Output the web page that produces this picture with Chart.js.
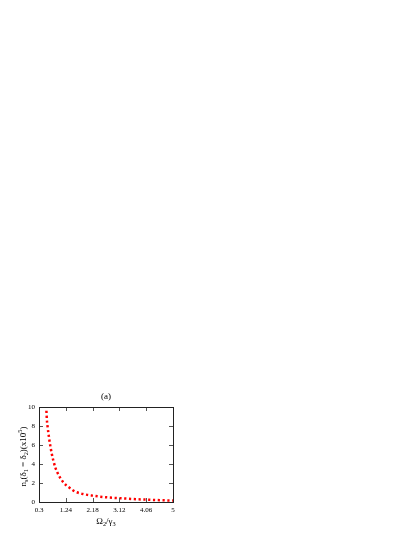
<!DOCTYPE html>
<html>
<head>
<meta charset="utf-8">
<script src="https://cdn.jsdelivr.net/npm/chart.js@4.4.1/dist/chart.umd.min.js"></script>
<style>
	body { margin: 0; background: #fff; }
	canvas { display: block; }
</style>
</head>
<body>
<canvas id="chart" width="415" height="537"></canvas>
<script>

// Omega_2 / gamma_3 and n_s (x10^5)
const omegaRatio = [0.56, 0.575, 0.6, 0.63, 0.66, 0.7, 0.75, 0.8, 0.87, 0.93, 1.0, 1.09, 1.17, 1.26, 1.36, 1.47, 1.59, 1.72, 1.86, 2.0, 2.18, 2.4, 2.65, 2.9, 3.12, 3.4, 3.7, 4.06, 4.4, 4.7, 5.0];
const nsValues = [9.6, 8.7, 7.95, 7.25, 6.6, 5.85, 5.05, 4.4, 3.65, 3.2, 2.78, 2.34, 2.0, 1.75, 1.52, 1.28, 1.07, 0.93, 0.83, 0.75, 0.67, 0.58, 0.5, 0.44, 0.4, 0.35, 0.3, 0.25, 0.21, 0.18, 0.15];

const xTicks = [0.3, 1.24, 2.18, 3.12, 4.06, 5];
const yTicks = [0, 2, 4, 6, 8, 10];

const serif = '"Liberation Serif", "Times New Roman", serif';
Chart.defaults.font.family = serif;
Chart.defaults.color = '#000';

// draws text parts like [['n',''],['s','sub']] starting at x
function drawRich(ctx, parts, x, y, size) {
	parts.forEach(p => {
		let s = size, dy = 0;
		if(p[1] === 'sub') { s = size * 0.7; dy = size * 0.3; }
		if(p[1] === 'sup') { s = size * 0.7; dy = -size * 0.4; }
		ctx.font = s + 'px ' + serif;
		ctx.fillText(p[0], x, y + dy);
		x += ctx.measureText(p[0]).width;
	});
}

function richWidth(ctx, parts, size) {
	let w = 0;
	parts.forEach(p => {
		let s = (p[1] === '') ? size : size * 0.7;
		ctx.font = s + 'px ' + serif;
		w += ctx.measureText(p[0]).width;
	});
	return w;
}

const framePlugin = {
	id: 'frame',
	afterDraw(chart) {
		const ctx = chart.ctx;
		const a = chart.chartArea;
		const xs = chart.scales.x, ys = chart.scales.y;
		ctx.save();

		// inward ticks on all sides
		ctx.strokeStyle = '#555';
		ctx.lineWidth = 1;
		ctx.beginPath();
		xTicks.forEach(v => {
			let px = Math.round(xs.getPixelForValue(v)) + 0.5;
			ctx.moveTo(px, a.bottom); ctx.lineTo(px, a.bottom - 4);
			ctx.moveTo(px, a.top); ctx.lineTo(px, a.top + 4);
		});
		yTicks.forEach(v => {
			let py = Math.round(ys.getPixelForValue(v)) + 0.5;
			ctx.moveTo(a.left, py); ctx.lineTo(a.left + 4, py);
			ctx.moveTo(a.right, py); ctx.lineTo(a.right - 4, py);
		});
		ctx.stroke();

		// frame
		ctx.strokeStyle = '#222';
		ctx.strokeRect(Math.round(a.left) + 0.5, Math.round(a.top) + 0.5, Math.round(a.right - a.left), Math.round(a.bottom - a.top));

		ctx.fillStyle = '#000';
		ctx.textBaseline = 'middle';
		ctx.textAlign = 'left';

		// title
		ctx.font = '9px ' + serif;
		ctx.textAlign = 'center';
		ctx.fillText('(a)', (a.left + a.right) / 2, 397);
		ctx.textAlign = 'left';

		// x axis title
		const xTitle = [['\u03A9', ''], ['2', 'sub'], ['/\u03B3', ''], ['3', 'sub']];
		let w = richWidth(ctx, xTitle, 9);
		drawRich(ctx, xTitle, (a.left + a.right) / 2 - w / 2, 522, 9);

		// y axis title, rotated
		const yTitle = [['n', ''], ['s', 'sub'], ['(\u03B4', ''], ['1', 'sub'], [' = \u03B4', ''], ['2', 'sub'], [')(x10', ''], ['5', 'sup'], [')', '']];
		ctx.translate(24, (a.top + a.bottom) / 2 + 2);
		ctx.rotate(-Math.PI / 2);
		w = richWidth(ctx, yTitle, 9);
		drawRich(ctx, yTitle, -w / 2, 0, 9);

		ctx.restore();
	}
};

new Chart(document.getElementById('chart'), {
	type: 'line',
	data: {
		datasets: [
			{
				data: omegaRatio.map((x, i) => ({x: x, y: nsValues[i]})),
				borderColor: '#ff0000',
				borderWidth: 2.5,
				borderDash: [2.2, 2.6],
				borderCapStyle: 'butt',
				pointRadius: 0,
				cubicInterpolationMode: 'monotone',
				fill: false
			}
		]
	},
	options: {
		responsive: false,
		devicePixelRatio: 1,
		animation: {
			duration: 0
		},
		layout: {
			padding: {top: 407, right: 242, left: 0, bottom: 0}
		},
		scales: {
			x: {
				type: 'linear',
				min: 0.3,
				max: 5,
				afterBuildTicks: scale => { scale.ticks = xTicks.map(v => ({value: v})); },
				afterFit: scale => { scale.height = 35; },
				grid: {display: false, drawTicks: false},
				border: {display: false},
				ticks: {
					padding: 4,
					font: {size: 7},
					maxRotation: 0,
					autoSkip: false,
					callback: v => String(+v.toFixed(2))
				}
			},
			y: {
				min: 0,
				max: 10,
				afterBuildTicks: scale => { scale.ticks = yTicks.map(v => ({value: v})); },
				afterFit: scale => { scale.width = 39; },
				grid: {display: false, drawTicks: false},
				border: {display: false},
				ticks: {
					padding: 4,
					font: {size: 7}
				}
			}
		},
		plugins: {
			legend: {display: false},
			tooltip: {enabled: false}
		}
	},
	plugins: [framePlugin]
});

</script>
</body>
</html>
